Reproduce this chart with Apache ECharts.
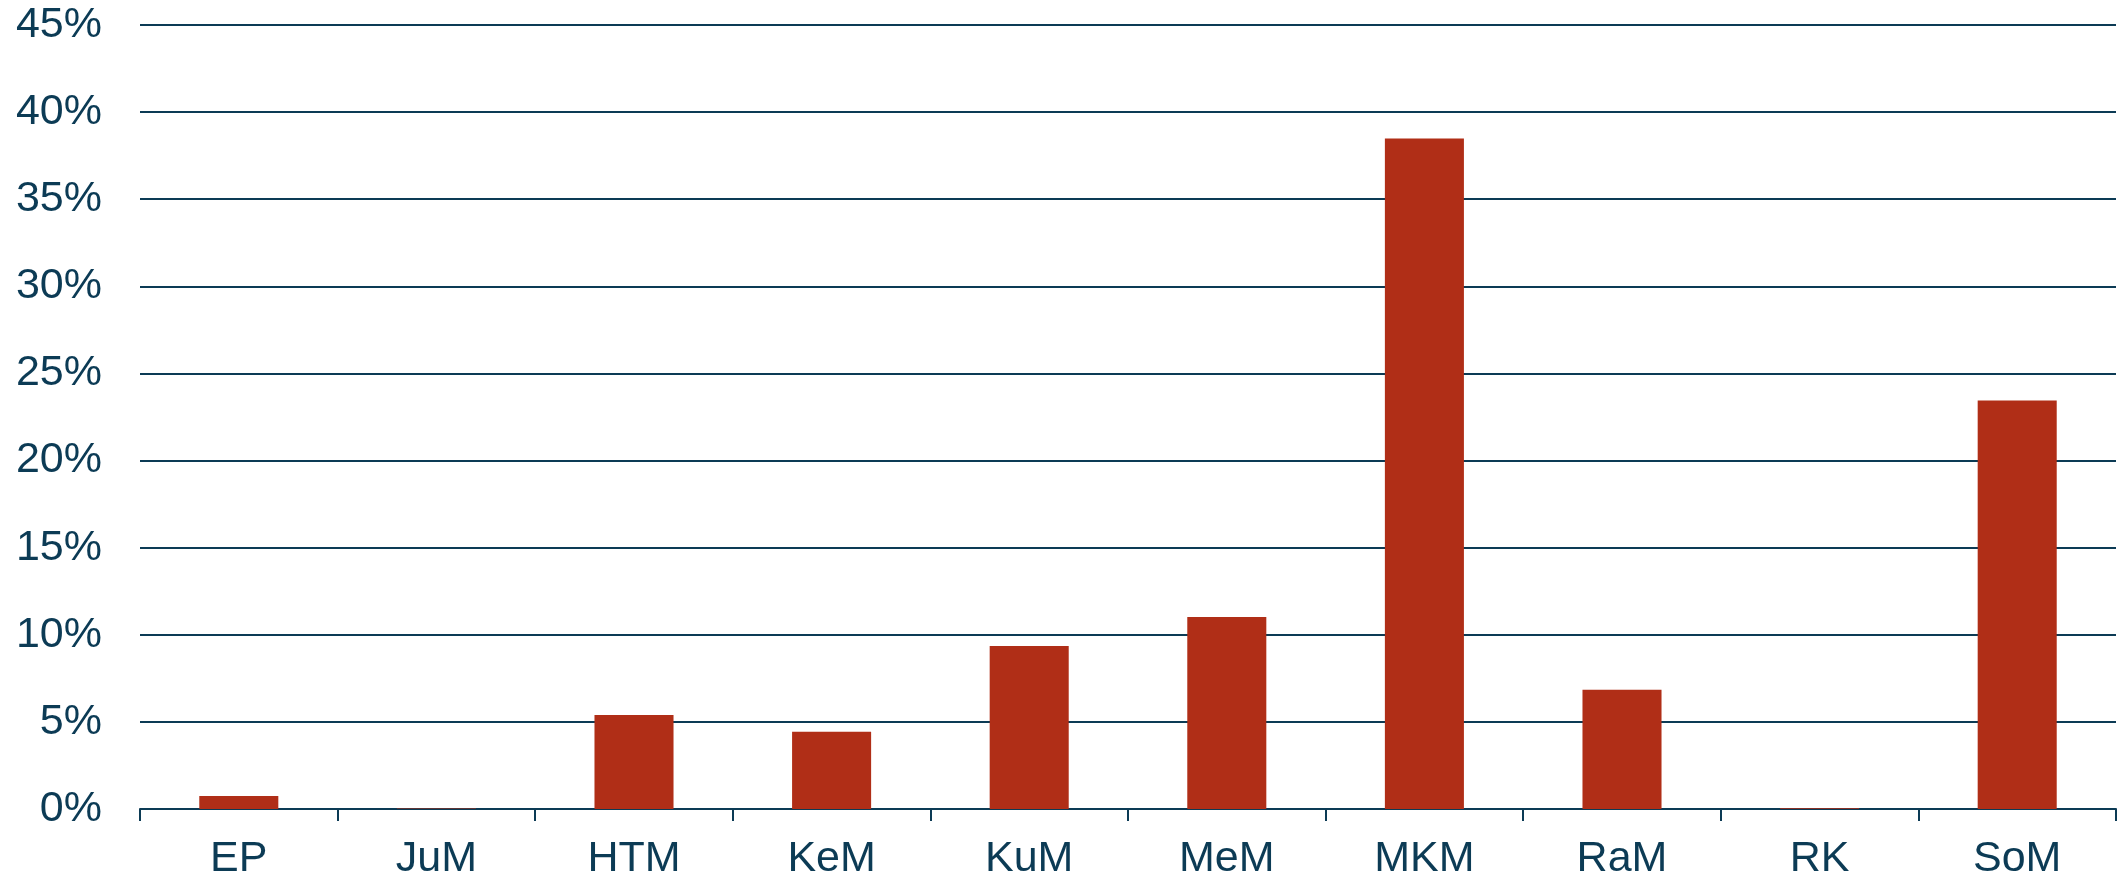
<!DOCTYPE html>
<html>
<head>
<meta charset="utf-8">
<script src="https://cdn.jsdelivr.net/npm/echarts@6/dist/echarts.min.js"></script>
<style>
html,body{margin:0;padding:0;background:#fff;}
#chart{width:2117px;height:881px;}
</style>
</head>
<body>
<div id="chart"></div>
<script>
const categories = ['EP','JuM','HTM','KeM','KuM','MeM','MKM','RaM','RK','SoM'];
const shares = [0.75, 0.03, 5.39, 4.43, 9.36, 11.02, 38.48, 6.84, 0.05, 23.45];
const yTicks = [0, 5, 10, 15, 20, 25, 30, 35, 40, 45];

const textColor = '#0c3b55';
const lineColor = '#0c3b55';
const barColor = '#b02e17';

const chart = echarts.init(document.getElementById('chart'));
chart.setOption({
  animation: false,
  backgroundColor: '#ffffff',
  grid: { left: 140, right: 1, top: 25, bottom: 70, containLabel: false },
  xAxis: {
    type: 'category',
    data: categories,
    axisLine: { show: true, lineStyle: { color: lineColor, width: 2 } },
    axisTick: { show: true, length: 12, lineStyle: { color: lineColor, width: 2 } },
    axisLabel: { color: textColor, fontSize: 43, fontFamily: 'Liberation Sans, Arial, sans-serif', margin: 29 },
    splitLine: { show: false }
  },
  yAxis: {
    type: 'value',
    min: yTicks[0],
    max: yTicks[yTicks.length - 1],
    interval: 5,
    axisLine: { show: false },
    axisTick: { show: false },
    axisLabel: { color: textColor, fontSize: 43, fontFamily: 'Liberation Sans, Arial, sans-serif', margin: 38, formatter: v => v + '%' },
    splitLine: { show: true, lineStyle: { color: lineColor, width: 2 } }
  },
  series: [{
    type: 'bar',
    data: shares,
    barCategoryGap: '60%',
    itemStyle: { color: barColor },
    z: 3
  }]
});
</script>
</body>
</html>
